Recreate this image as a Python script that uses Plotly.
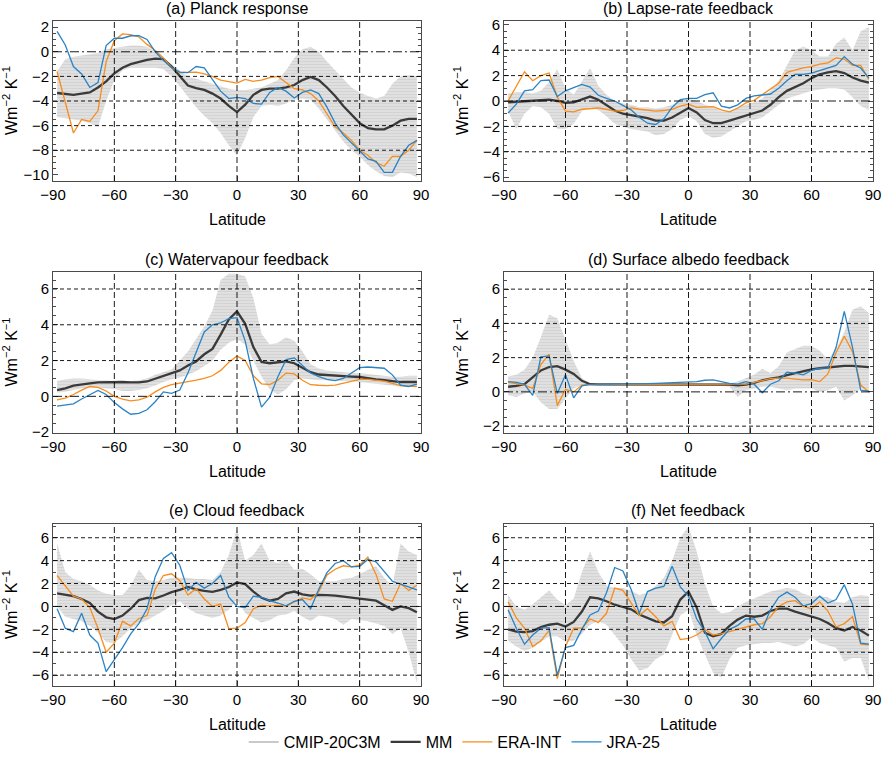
import plotly.graph_objects as go

# ---------------- data ----------------
lat = [-88, -84, -80, -76, -72, -68, -64, -60, -56, -52, -48, -44, -40, -36, -32,
       -28, -24, -20, -16, -12, -8, -4, 0, 4, 8, 12, 16, 20, 24, 28,
       32, 36, 40, 44, 48, 52, 56, 60, 64, 68, 72, 76, 80, 84, 88]

# (a) Planck response
planck_hi = [-1.6, -0.6, -0.4, -0.3, -0.2, -0.1, 0.2, 0.3, 0.4, 0.5, 0.5, 0.4, 0.0, -0.5, -1.0,
             -1.5, -2.0, -2.2, -2.4, -2.6, -2.8, -3.0, -3.1, -3.1, -3.0, -2.9, -2.6, -2.3, -1.5, -0.5,
             0.2, 0.4, 0.0, -0.8, -1.5, -2.2, -2.9, -3.3, -3.6, -3.8, -3.6, -2.6, -2.0, -1.9, -2.0]
planck_lo = [-5.3, -5.4, -5.5, -5.6, -5.8, -6.1, -4.0, -2.3, -1.5, -1.3, -1.3, -1.3, -1.3, -1.4, -2.0,
             -2.8, -3.7, -4.5, -5.2, -5.8, -6.6, -7.6, -8.4, -7.0, -5.3, -4.4, -4.3, -4.4, -4.2, -3.9,
             -3.8, -3.9, -4.6, -5.5, -6.4, -7.3, -8.0, -8.5, -9.2, -9.7, -10.1, -10.2, -9.8, -9.9, -10.2]
planck_mm = [-3.35, -3.45, -3.5, -3.4, -3.3, -2.9, -2.4, -1.75, -1.3, -1.0, -0.8, -0.65, -0.55, -0.6, -1.2,
             -2.0, -2.75, -2.95, -3.1, -3.4, -3.8, -4.4, -4.9, -4.3, -3.5, -3.1, -3.0, -3.0, -2.9, -2.7,
             -2.3, -2.05, -2.3, -2.9, -3.6, -4.4, -5.1, -5.8, -6.2, -6.3, -6.3, -6.0, -5.6, -5.45, -5.45]
planck_era = [-1.6, -4.2, -6.6, -5.5, -5.65, -4.8, -0.8, 0.9, 1.45, 1.4, 1.2, 0.6, 0.1, -0.5, -1.3,
              -1.7, -1.7, -1.65, -1.8, -2.0, -2.3, -2.45, -2.55, -2.25, -2.4, -2.3, -2.1, -2.0, -2.5, -3.0,
              -3.1, -3.4, -4.0, -5.0, -6.1, -6.6, -7.2, -8.0, -8.4, -9.0, -9.3, -8.5, -8.5, -8.0, -7.2]
planck_jra = [1.65, 0.55, -1.2, -1.8, -2.9, -2.5, 0.5, 1.1, 1.1, 1.3, 1.3, 1.0, 0.0, -0.7, -1.3,
              -1.65, -1.7, -1.2, -1.3, -2.3, -3.2, -3.8, -3.7, -3.8, -4.2, -4.25, -3.3, -2.9, -3.2, -3.75,
              -3.3, -3.1, -3.4, -4.5, -5.8, -6.75, -7.4, -8.1, -8.7, -8.9, -9.8, -9.8, -8.5, -7.6, -7.2]

# (b) Lapse-rate feedback
lapse_hi = [0.6, 0.7, 0.7, 0.6, 0.8, 1.5, 2.5, 1.0, 0.5, 1.5, 2.6, 1.2, 0.5, 0.0, -0.2,
            -0.3, -0.5, -0.5, -0.6, -0.5, -0.3, 0.0, 0.2, 0.0, -0.3, -0.5, -0.8, -0.8, -0.5, -0.3,
            -0.1, 0.2, 0.8, 1.6, 2.8, 4.0, 4.3, 4.0, 3.5, 3.5, 4.5, 5.0, 4.0, 5.5, 5.8]
lapse_lo = [-0.8, -2.2, -1.0, -0.4, -0.5, -1.0, -2.2, -2.2, -1.8, -0.8, -0.5, -0.7, -1.2, -1.8, -2.0,
            -2.2, -2.3, -2.4, -2.7, -2.6, -2.2, -1.5, -1.2, -1.6, -2.6, -2.9, -2.8, -2.4, -2.0, -1.6,
            -1.5, -1.3, -0.8, -0.3, 0.2, 0.4, 0.6, 0.8, 0.9, 1.0, 1.0, 0.9, 0.3, -0.4, -0.7]
lapse_mm = [-0.1, -0.05, 0.0, 0.05, 0.1, 0.1, 0.0, -0.15, -0.1, 0.1, 0.35, 0.1, -0.35, -0.75, -1.0,
            -1.1, -1.2, -1.35, -1.55, -1.55, -1.3, -0.9, -0.55, -0.9, -1.5, -1.75, -1.75, -1.55, -1.35, -1.15,
            -1.0, -0.75, -0.3, 0.3, 0.8, 1.1, 1.4, 1.8, 2.1, 2.25, 2.35, 2.2, 1.85, 1.6, 1.45]
lapse_era = [0.0, 1.2, 2.3, 1.6, 2.0, 2.2, 0.3, -0.8, -0.85, -0.65, -0.6, -0.55, -0.65, -0.8, -0.75,
             -0.55, -0.65, -0.75, -0.8, -0.75, -0.65, -0.4, -0.25, -0.5, -0.5, -0.45, -0.7, -0.85, -0.55, -0.15,
             0.05, 0.5, 0.9, 1.4, 2.25, 2.45, 2.6, 2.7, 2.9, 3.0, 3.4, 3.3, 2.8, 2.8, 1.7]
lapse_jra = [-0.95, -0.25, 0.8, 0.9, 1.6, 1.65, 0.35, 0.8, 1.05, 1.3, 1.1, 0.45, 0.2, 0.0, -0.35,
             -0.7, -1.3, -1.75, -1.85, -1.4, -0.5, 0.1, 0.2, 0.2, 0.5, 0.65, -0.4, -0.55, -0.3, 0.2,
             0.4, 0.45, 0.55, 1.0, 1.6, 2.1, 2.1, 2.2, 2.4, 2.6, 2.8, 3.5, 2.9, 2.6, 1.8]

# (c) Watervapour feedback
wv_hi = [0.85, 0.95, 1.0, 1.0, 0.95, 0.9, 0.9, 0.85, 0.85, 0.85, 0.9, 1.0, 1.2, 1.35, 1.5,
         2.0, 2.5, 3.2, 3.9, 4.8, 6.5, 6.85, 6.85, 6.7, 5.5, 3.5, 2.9, 3.0, 3.3, 3.1,
         2.5, 1.8, 1.55, 1.45, 1.4, 1.35, 1.3, 1.3, 1.25, 1.2, 1.15, 1.1, 1.1, 1.15, 1.15]
wv_lo = [0.2, 0.25, 0.35, 0.45, 0.5, 0.5, 0.45, 0.4, 0.3, 0.3, 0.35, 0.45, 0.6, 0.8, 0.95,
         1.05, 1.2, 1.4, 1.7, 2.0, 2.6, 3.0, 3.2, 2.9, 2.0, 1.1, 0.4, 0.1, 0.4, 0.9,
         1.0, 0.95, 0.9, 0.9, 0.85, 0.85, 0.85, 0.8, 0.75, 0.7, 0.65, 0.6, 0.55, 0.55, 0.55]
wv_mm = [0.35, 0.45, 0.6, 0.68, 0.73, 0.78, 0.8, 0.8, 0.8, 0.78, 0.78, 0.83, 0.98, 1.15, 1.3,
         1.45, 1.72, 1.95, 2.35, 2.65, 3.45, 4.3, 4.75, 4.05, 2.75, 1.92, 1.85, 1.88, 1.95, 1.85,
         1.6, 1.35, 1.22, 1.18, 1.15, 1.12, 1.1, 1.08, 1.0, 0.95, 0.9, 0.85, 0.8, 0.8, 0.8]
wv_era = [-0.2, -0.1, 0.1, 0.35, 0.55, 0.5, 0.3, 0.0, -0.15, -0.25, -0.2, -0.05, 0.25, 0.5, 0.65,
          0.72, 0.8, 0.9, 1.0, 1.15, 1.45, 1.9, 2.25, 2.0, 1.15, 0.7, 0.66, 0.9, 1.3, 1.25,
          0.9, 0.65, 0.62, 0.6, 0.63, 0.75, 0.85, 0.95, 0.95, 0.9, 0.85, 0.72, 0.6, 0.57, 0.55]
wv_jra = [-0.55, -0.5, -0.42, -0.15, 0.1, 0.33, 0.1, -0.35, -0.7, -1.0, -0.95, -0.75, -0.3, 0.25, 0.17,
          0.35, 1.3, 2.4, 3.6, 4.0, 4.1, 4.35, 4.4, 3.1, 1.0, -0.6, -0.05, 1.1, 2.05, 2.15,
          1.7, 1.3, 1.1, 0.95, 0.88, 1.0, 1.3, 1.6, 1.64, 1.62, 1.57, 1.2, 0.63, 0.55, 0.68]

# (d) Surface albedo feedback
alb_hi = [0.9, 1.0, 1.3, 2.0, 3.2, 4.5, 4.3, 3.0, 1.8, 0.8, 0.5, 0.5, 0.5, 0.5, 0.5,
          0.5, 0.5, 0.5, 0.5, 0.5, 0.5, 0.5, 0.5, 0.5, 0.5, 0.5, 0.5, 0.5, 0.6, 0.8,
          1.0, 1.35, 1.1, 1.5, 2.3, 2.5, 2.7, 2.7, 2.4, 1.9, 2.5, 3.5, 4.8, 5.0, 4.6]
alb_lo = [-0.2, -0.3, -0.1, 0.0, -0.6, -1.0, -1.0, -0.4, 0.2, 0.4, 0.38, 0.38, 0.38, 0.38, 0.38,
          0.38, 0.38, 0.38, 0.38, 0.38, 0.38, 0.38, 0.38, 0.38, 0.38, 0.38, 0.38, 0.3, -0.3, 0.1,
          0.2, 0.3, 0.3, 0.2, 0.1, 0.2, 0.2, 0.2, 0.0, 0.1, 0.3, -0.5, -0.2, 0.2, 0.1]
alb_mm = [0.3, 0.35, 0.45, 0.85, 1.25, 1.45, 1.5, 1.3, 1.05, 0.65, 0.45, 0.44, 0.44, 0.44, 0.44,
          0.44, 0.44, 0.44, 0.44, 0.44, 0.44, 0.44, 0.44, 0.44, 0.44, 0.44, 0.44, 0.42, 0.38, 0.42,
          0.52, 0.68, 0.78, 0.85, 0.98, 1.1, 1.18, 1.32, 1.38, 1.42, 1.5, 1.52, 1.52, 1.5, 1.45]
alb_era = [0.55, 0.48, 0.4, 0.2, 1.6, 2.2, -0.8, 0.15, 0.0, 0.4, 0.44, 0.44, 0.44, 0.44, 0.45,
           0.47, 0.48, 0.46, 0.45, 0.45, 0.46, 0.46, 0.45, 0.45, 0.44, 0.44, 0.44, 0.44, 0.44, 0.45,
           0.55, 0.68, 0.78, 0.8, 0.8, 0.75, 0.7, 0.72, 0.6, 1.05, 2.3, 3.25, 2.35, 0.4, 0.0]
alb_jra = [0.6, 0.55, 0.44, -0.2, 2.05, 2.1, -0.1, 1.0, -0.35, 0.35, 0.44, 0.44, 0.44, 0.45, 0.45,
           0.46, 0.47, 0.48, 0.5, 0.52, 0.53, 0.55, 0.55, 0.6, 0.68, 0.7, 0.6, 0.5, 0.45, 0.6,
           0.45, -0.05, 0.45, 0.65, 1.15, 1.1, 1.0, 1.25, 1.38, 1.4, 2.6, 4.7, 2.6, 0.1, 0.05]

# (e) Cloud feedback
cld_hi = [5.5, 3.0, 2.4, 2.2, 1.9, 1.4, 1.1, 1.0, 1.0, 1.8, 3.2, 2.3, 2.2, 2.3, 2.5,
          2.5, 2.5, 2.4, 2.4, 2.3, 3.0, 4.5, 6.8, 4.0, 4.5, 5.5, 4.0, 3.8, 4.1, 3.2,
          3.3, 2.8, 2.2, 2.2, 2.2, 2.4, 2.5, 2.8, 3.2, 3.5, 2.5, 1.8, 5.5, 4.8, 4.5]
cld_lo = [0.0, -0.9, -1.1, -1.3, -1.7, -2.3, -3.1, -3.2, -2.6, -1.9, -1.5, -1.2, -0.8, -0.4, 0.1,
          0.45, -0.15, -0.6, -0.8, -1.0, -0.8, -0.3, 0.6, -0.6, -1.0, -1.4, -1.2, -0.8, -0.7, -0.4,
          -0.9, -1.3, -0.8, -0.9, -1.1, -1.6, -1.1, -1.2, -1.3, -1.5, -1.7, -2.4, -1.9, -4.0, -6.7]
cld_mm = [1.15, 1.05, 0.9, 0.65, 0.3, -0.45, -0.95, -1.1, -0.8, -0.2, 0.55, 0.75, 0.7, 0.95, 1.25,
          1.45, 1.7, 1.5, 1.35, 1.28, 1.45, 1.7, 2.1, 1.95, 1.3, 0.75, 0.5, 0.65, 1.15, 1.3,
          1.05, 0.95, 1.0, 0.98, 0.95, 0.85, 0.75, 0.68, 0.6, 0.5, 0.1, -0.3, 0.0, -0.15, -0.5]
cld_era = [2.7, 1.8, 0.9, 0.65, -0.1, -1.9, -4.0, -3.2, -1.3, -1.7, -1.05, -0.8, 1.5, 2.7, 2.85,
           2.25, 1.0, 1.55, 0.65, 0.0, 0.2, -1.95, -1.9, -1.4, -0.2, 0.1, 0.05, 0.1, 0.0, 0.4,
           0.75, 0.6, 1.3, 2.75, 3.25, 3.55, 3.45, 3.6, 4.3, 2.8, 0.65, 0.45, 2.0, 1.4, 1.85]
cld_jra = [-0.2, -1.9, -2.2, -0.6, -2.5, -3.2, -5.7, -4.7, -3.6, -2.4, -1.5, -0.2, 2.6, 4.2, 4.7,
           3.6, 1.4, 2.1, 1.6, 2.0, 2.7, 0.8, 0.0, -0.1, 0.9, 0.8, 0.5, 0.3, 0.05, 0.45,
           0.6, -0.2, 1.5, 2.95, 3.75, 4.0, 3.45, 3.5, 4.1, 3.9, 3.05, 2.2, 1.95, 1.7, 1.45]

# (f) Net feedback
net_hi = [1.0, 0.0, -0.3, 0.2, 0.8, 1.4, 0.6, 0.1, 0.7, 3.0, 4.8, 3.0, 1.8, 1.6, 1.6,
          1.4, 1.0, 1.2, 1.8, 2.5, 4.0, 6.0, 7.0, 4.8, 2.0, 0.0, -0.6, -0.5, 0.0, 0.4,
          0.7, 1.0, 1.3, 1.45, 1.6, 1.5, 1.1, 0.9, 0.9, 0.8, 0.4, 0.3, 0.8, 1.0, 0.9]
net_lo = [-3.0, -3.5, -3.9, -3.6, -3.1, -2.6, -2.6, -3.1, -3.0, -2.4, -1.6, -1.3, -1.6, -2.5, -3.4,
          -4.6, -5.6, -5.4, -4.6, -4.2, -2.5, -0.8, -0.3, -2.5, -4.2, -5.8, -6.2, -4.6, -3.6, -3.4,
          -3.3, -3.2, -3.2, -3.1, -3.3, -3.5, -3.3, -2.7, -3.2, -3.4, -3.6, -4.8, -4.5, -4.5, -6.5]
net_mm = [-2.0, -2.2, -2.25, -2.15, -1.8, -1.6, -1.5, -1.75, -1.35, -0.45, 0.8, 0.7, 0.45, 0.15, -0.05,
          -0.25, -0.7, -1.0, -1.3, -1.4, -0.85, 0.6, 1.3, -0.1, -2.3, -2.6, -2.4, -1.7, -1.15, -0.8,
          -0.9, -0.8, -0.4, -0.2, -0.2, -0.45, -0.65, -0.85, -1.1, -1.45, -1.9, -2.1, -1.8, -2.1, -2.55]
net_era = [0.4, -1.0, -1.9, -3.5, -3.0, -2.1, -6.3, -3.5, -1.9, -1.9, -1.1, -1.4, -0.6, 1.6, 1.4,
           0.3, -0.8, -0.2, -0.9, -1.7, -1.3, -2.9, -2.8, -2.5, -2.0, -2.5, -2.4, -2.2, -2.0, -1.85,
           -1.6, -1.5, -0.9, 0.0, 0.4, 0.5, 0.0, -0.2, 0.4, -0.4, -1.8, -1.5, -0.9, -3.3, -3.35]
net_jra = [-0.3, -1.9, -3.3, -2.5, -1.9, -1.85, -6.0, -3.6, -3.4, -2.0, -0.75, -0.4, 1.2, 3.4, 3.1,
           1.5, -0.6, 1.3, 1.6, 1.75, 3.5, 1.7, 0.9, -1.1, -2.2, -3.7, -2.8, -2.0, -1.65, -1.1,
           -1.1, -2.0, -0.3, 0.8, 1.25, 0.8, 0.05, 0.25, 0.9, 0.3, 0.6, 1.9, 0.2, -3.2, -3.3]

titles = ["(a) Planck response", "(b) Lapse-rate feedback", "(c) Watervapour feedback",
          "(d) Surface albedo feedback", "(e) Cloud feedback", "(f) Net feedback"]
lat_ticks = [-90, -60, -30, 0, 30, 60, 90]
series_names = ["CMIP-20C3M", "MM", "ERA-INT", "JRA-25"]

# ---------------- styling / layout ----------------
FONT = "Liberation Sans, Arial, Helvetica, sans-serif"
W, H = 883, 757
C_MM = "#3a3a3a"
C_ERA = "#f78d1c"
C_JRA = "#2a83c4"
C_BAND = "#e3e3e3"
C_HATCH = "#c4c4c4"

data = [
    (planck_lo, planck_hi, planck_mm, planck_era, planck_jra),
    (lapse_lo, lapse_hi, lapse_mm, lapse_era, lapse_jra),
    (wv_lo, wv_hi, wv_mm, wv_era, wv_jra),
    (alb_lo, alb_hi, alb_mm, alb_era, alb_jra),
    (cld_lo, cld_hi, cld_mm, cld_era, cld_jra),
    (net_lo, net_hi, net_mm, net_era, net_jra),
]
yranges = [[-10.5, 2.5], [-6.3, 6.3], [-2.05, 6.95], [-2.4, 7.0], [-6.95, 7.2], [-6.95, 7.2]]
yticks = [[-10, -8, -6, -4, -2, 0, 2], [-6, -4, -2, 0, 2, 4, 6], [-2, 0, 2, 4, 6],
          [-2, 0, 2, 4, 6], [-6, -4, -2, 0, 2, 4, 6], [-6, -4, -2, 0, 2, 4, 6]]
ygrid = [[-8, -6, -4, -2, 0], [-4, -2, 0, 2, 4], [0, 2, 4, 6],
         [-2, 0, 2, 4, 6], [-6, -4, -2, 0, 2, 4, 6], [-6, -4, -2, 0, 2, 4, 6]]
yminor = [0.5, 0.5, 0.5, 0.5, 1, 1]

col_px = [(53, 421), (504, 873)]
row_px = [(21, 181), (272, 433), (524, 686)]

fig = go.Figure()
layout = dict(
    width=W, height=H,
    margin=dict(l=0, r=0, t=0, b=0, autoexpand=False),
    paper_bgcolor="white", plot_bgcolor="white",
    font=dict(family=FONT, size=15, color="black"),
    showlegend=True,
    legend=dict(orientation="h", traceorder="normal", x=0.515, xanchor="center",
                y=1 - 742 / H, yanchor="middle",
                font=dict(size=16), itemwidth=30, tracegroupgap=0, bgcolor="rgba(0,0,0,0)"),
)
annotations = []
shapes = []

# legend-only entry for the model spread
fig.add_trace(go.Scatter(x=[None], y=[None], mode="lines", name=series_names[0],
                         line=dict(color="#c9c9c9", width=2), showlegend=True))

for i, (lo, hi, mm, era, jra) in enumerate(data):
    n = i + 1
    r, c = divmod(i, 2)
    x0p, x1p = col_px[c]
    y0p, y1p = row_px[r]
    xa = "x" if n == 1 else f"x{n}"
    ya = "y" if n == 1 else f"y{n}"

    fig.add_trace(go.Scatter(x=lat, y=hi, xaxis=xa, yaxis=ya, mode="lines",
                             line=dict(width=0, color=C_BAND), showlegend=False, hoverinfo="skip"))
    fig.add_trace(go.Scatter(x=lat, y=lo, xaxis=xa, yaxis=ya, mode="lines",
                             line=dict(width=0, color=C_BAND), fill="tonexty", fillcolor=C_BAND,
                             fillpattern=dict(shape="-", bgcolor=C_BAND, fgcolor=C_HATCH,
                                              size=3, solidity=0.45),
                             showlegend=False, hoverinfo="skip"))
    fig.add_trace(go.Scatter(x=lat, y=mm, xaxis=xa, yaxis=ya, mode="lines", name=series_names[1],
                             line=dict(color=C_MM, width=2.3), showlegend=(i == 0)))
    fig.add_trace(go.Scatter(x=lat, y=era, xaxis=xa, yaxis=ya, mode="lines", name=series_names[2],
                             line=dict(color=C_ERA, width=1.3), showlegend=(i == 0)))
    fig.add_trace(go.Scatter(x=lat, y=jra, xaxis=xa, yaxis=ya, mode="lines", name=series_names[3],
                             line=dict(color=C_JRA, width=1.3), showlegend=(i == 0)))

    axis_common = dict(showline=True, linecolor="#4a4a4a", linewidth=1, showgrid=False,
                       zeroline=False, ticks="inside", tickcolor="#4a4a4a", ticklen=5,
                       tickfont=dict(size=15))
    layout["xaxis" if n == 1 else f"xaxis{n}"] = dict(
        axis_common, domain=[x0p / W, x1p / W], anchor=ya, range=[-90, 90],
        tickvals=lat_ticks, mirror=True)
    layout["yaxis" if n == 1 else f"yaxis{n}"] = dict(
        axis_common, domain=[1 - y1p / H, 1 - y0p / H], anchor=xa, range=yranges[i],
        tickvals=yticks[i], mirror="allticks",
        minor=dict(dtick=yminor[i], ticks="inside", ticklen=3, tickcolor="#4a4a4a"))

    # dashed grid lines (drawn above the band, as in the reference)
    for v in ygrid[i]:
        shapes.append(dict(type="line", xref=f"{xa} domain", yref=ya, x0=0, x1=1, y0=v, y1=v,
                           layer="above",
                           line=dict(color="black", width=0.9,
                                     dash="9px,3px,2px,3px" if v == 0 else "4px,3px")))
    for v in lat_ticks[1:-1]:
        shapes.append(dict(type="line", xref=xa, yref=f"{ya} domain", x0=v, x1=v, y0=0, y1=1,
                           layer="above", line=dict(color="black", width=0.9, dash="6px,3px")))

    xc = (x0p + x1p) / 2 / W
    annotations.append(dict(text=titles[i], xref="paper", yref="paper", x=xc, y=1 - (y0p - 13) / H,
                            xanchor="center", yanchor="middle", showarrow=False,
                            font=dict(size=16)))
    annotations.append(dict(text="Latitude", xref="paper", yref="paper", x=xc,
                            y=1 - (y1p + 38) / H, xanchor="center", yanchor="middle",
                            showarrow=False, font=dict(size=16)))
    annotations.append(dict(text="Wm<sup>−2</sup> K<sup>−1</sup>", xref="paper", yref="paper",
                            x=(x0p - 43) / W, y=1 - (y0p + y1p) / 2 / H, xanchor="center",
                            yanchor="middle", textangle=-90, showarrow=False,
                            font=dict(size=16)))

layout["annotations"] = annotations
layout["shapes"] = shapes
fig.update_layout(**layout)
fig.write_html("out.html", config={"displayModeBar": False, "staticPlot": False},
               post_script="document.body.style.margin='0';document.body.style.overflow='hidden';")
